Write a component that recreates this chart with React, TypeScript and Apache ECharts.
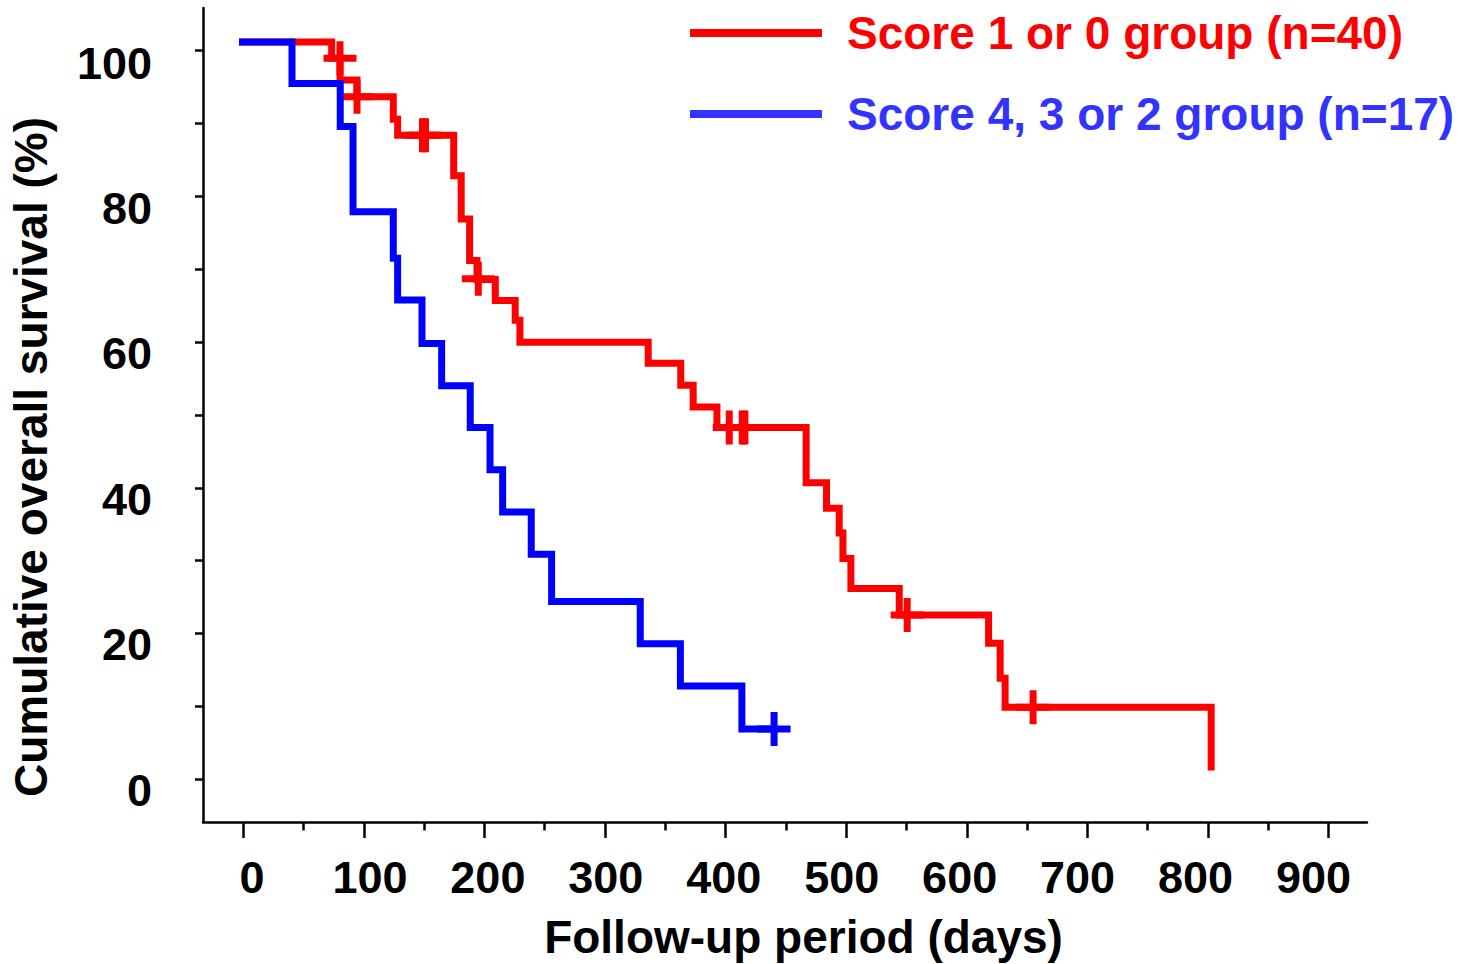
import React, { useEffect, useRef } from "react";
import * as echarts from "echarts";

// ---- Data (days, displayed % survival) ----
const redDays = [-6.3, 73.3, 80.2, 94.3, 124.4, 128.0, 174.5, 180.7, 187.7, 193.8, 209.0, 225.5, 229.4, 335.8, 362.8, 373.1, 392.8, 466.8, 483.7, 494.2, 497.3, 503.9, 544.0, 618.1, 627.7, 631.8, 802.7];
const redSurvival = [101.2, 98.96, 95.98, 93.69, 90.6, 88.4, 82.85, 76.9, 71.2, 68.6, 65.7, 63.0, 60.0, 57.1, 54.1, 51.1, 48.3, 40.7, 37.2, 33.8, 30.3, 26.2, 22.55, 18.67, 13.86, 9.88, 1.2];
const redCensorDays = [80.2, 94.3, 148.6, 151.1, 194.9, 403.0, 413.8, 416.0, 550.6, 655.0];
const redCensorSurvival = [98.96, 93.69, 88.4, 88.4, 68.7, 48.3, 48.3, 48.3, 22.55, 9.88];

const blueDays = [-6.3, 40.4, 80.4, 91.0, 124.4, 128.0, 148.2, 164.5, 188.2, 204.6, 215.1, 238.8, 255.7, 329.2, 362.5, 413.5, 440.2];
const blueSurvival = [101.2, 95.5, 89.6, 77.9, 71.5, 65.8, 59.8, 54.0, 48.3, 42.5, 36.7, 30.9, 24.4, 18.6, 12.8, 6.9, 6.9];
const blueCensorDays = [440.2];
const blueCensorSurvival = [6.9];

const redName = "Score 1 or 0 group (n=40)";
const blueName = "Score 4, 3 or 2 group (n=17)";
const xTitle = "Follow-up period (days)";
const yTitle = "Cumulative overall survival (%)";

const FONT = "'Liberation Sans', Arial, Helvetica, sans-serif";
const PLUS = "path://M13,0H20V13.5H33V20.5H20V34H13V20.5H0V13.5H13Z";

const zip = (a: number[], b: number[]) => a.map((v, i) => [v, b[i]]);

export default function App() {
  const ref = useRef<HTMLDivElement>(null);
  useEffect(() => {
    const chart = echarts.init(ref.current!, undefined, { renderer: "svg" });
    const axisLineStyle = { color: "#000", width: 2.5 };
    const noLine = { show: false, onZero: false };
    const labelStyle = {
      color: "#000",
      fontFamily: FONT,
      fontWeight: "bold" as const,
      fontSize: 45,
    };
    chart.setOption({
      animation: false,
      backgroundColor: "#fff",
      grid: [
        // frame (axis lines)
        { left: 203, right: 103, top: 8, bottom: 142 },
        // data area
        { left: 243.3, right: 141.5, top: 50.7, bottom: 184.7 },
        // tick labels
        { left: 252, right: 156.5, top: 63, bottom: 174 },
      ],
      xAxis: [
        {
          gridIndex: 0, type: "value", min: 0, max: 1,
          axisLine: { show: true, onZero: false, lineStyle: axisLineStyle },
          axisTick: { show: false }, axisLabel: { show: false }, splitLine: { show: false },
        },
        {
          gridIndex: 1, type: "value", min: 0, max: 900, interval: 100,
          position: "bottom", offset: 42.7,
          axisLine: noLine,
          axisTick: { show: true, length: 16, lineStyle: axisLineStyle },
          minorTick: { show: true, splitNumber: 2, length: 8.5, lineStyle: axisLineStyle },
          axisLabel: { show: false },
          splitLine: { show: false },
        },
        {
          gridIndex: 2, type: "value", min: 0, max: 900, interval: 100,
          position: "bottom", offset: 32,
          axisLine: noLine, axisTick: { show: false }, splitLine: { show: false },
          axisLabel: { show: true, margin: 33, ...labelStyle },
        },
      ],
      yAxis: [
        {
          gridIndex: 0, type: "value", min: 0, max: 1,
          axisLine: { show: true, onZero: false, lineStyle: axisLineStyle },
          axisTick: { show: false }, axisLabel: { show: false }, splitLine: { show: false },
        },
        {
          gridIndex: 1, type: "value", min: 0, max: 100, interval: 10,
          position: "left", offset: 40.3,
          axisLine: noLine,
          axisTick: { show: true, length: 8, lineStyle: axisLineStyle },
          axisLabel: { show: false },
          splitLine: { show: false },
        },
        {
          gridIndex: 2, type: "value", min: 0, max: 100, interval: 20,
          position: "left", offset: 49,
          axisLine: noLine, axisTick: { show: false }, splitLine: { show: false },
          axisLabel: { show: true, margin: 51, ...labelStyle },
        },
      ],
      legend: {
        orient: "vertical",
        left: 690,
        top: 10,
        padding: 0,
        itemWidth: 132,
        itemHeight: 8,
        itemGap: 35,
        icon: "rect",
        selectedMode: false,
        textStyle: {
          fontFamily: FONT,
          fontWeight: "bold",
          fontSize: 46,
          padding: [0, 0, 0, 20],
        },
        data: [
          { name: redName, itemStyle: { color: "#ff0000" }, textStyle: { color: "#ff0000" } },
          { name: blueName, itemStyle: { color: "#3333ff" }, textStyle: { color: "#3333ff" } },
        ],
      },
      graphic: [
        {
          type: "text",
          x: 803.5,
          y: 937,
          style: {
            text: xTitle,
            fontFamily: FONT,
            fontWeight: "bold",
            fontSize: 46,
            fill: "#000",
            align: "center",
            verticalAlign: "middle",
          },
        },
        {
          type: "text",
          x: 31,
          y: 457,
          rotation: Math.PI / 2,
          style: {
            text: yTitle,
            fontFamily: FONT,
            fontWeight: "bold",
            fontSize: 46,
            fill: "#000",
            align: "center",
            verticalAlign: "middle",
          },
        },
      ],
      series: [
        {
          name: redName,
          type: "line",
          xAxisIndex: 1,
          yAxisIndex: 1,
          step: "end",
          clip: false,
          symbol: "none",
          color: "#ff0000",
          lineStyle: { color: "#ff0000", width: 7, cap: "butt", join: "miter" },
          data: zip(redDays, redSurvival),
          silent: true,
        },
        {
          name: redName + " censored",
          type: "scatter",
          xAxisIndex: 1,
          yAxisIndex: 1,
          clip: false,
          symbol: PLUS,
          symbolSize: [33, 34],
          itemStyle: { color: "#ff0000", opacity: 1 },
          data: zip(redCensorDays, redCensorSurvival),
          silent: true,
        },
        {
          name: blueName,
          type: "line",
          xAxisIndex: 1,
          yAxisIndex: 1,
          step: "end",
          clip: false,
          symbol: "none",
          color: "#0000ff",
          lineStyle: { color: "#0000ff", width: 7, cap: "butt", join: "miter" },
          data: zip(blueDays, blueSurvival),
          silent: true,
        },
        {
          name: blueName + " censored",
          type: "scatter",
          xAxisIndex: 1,
          yAxisIndex: 1,
          clip: false,
          symbol: PLUS,
          symbolSize: [33, 34],
          itemStyle: { color: "#0000ff", opacity: 1 },
          data: zip(blueCensorDays, blueCensorSurvival),
          silent: true,
        },
      ],
    });
    return () => chart.dispose();
  }, []);
  return (
    <div
      ref={ref}
      style={{ position: "fixed", left: 0, top: 0, width: 1470, height: 964, background: "#fff" }}
    />
  );
}
